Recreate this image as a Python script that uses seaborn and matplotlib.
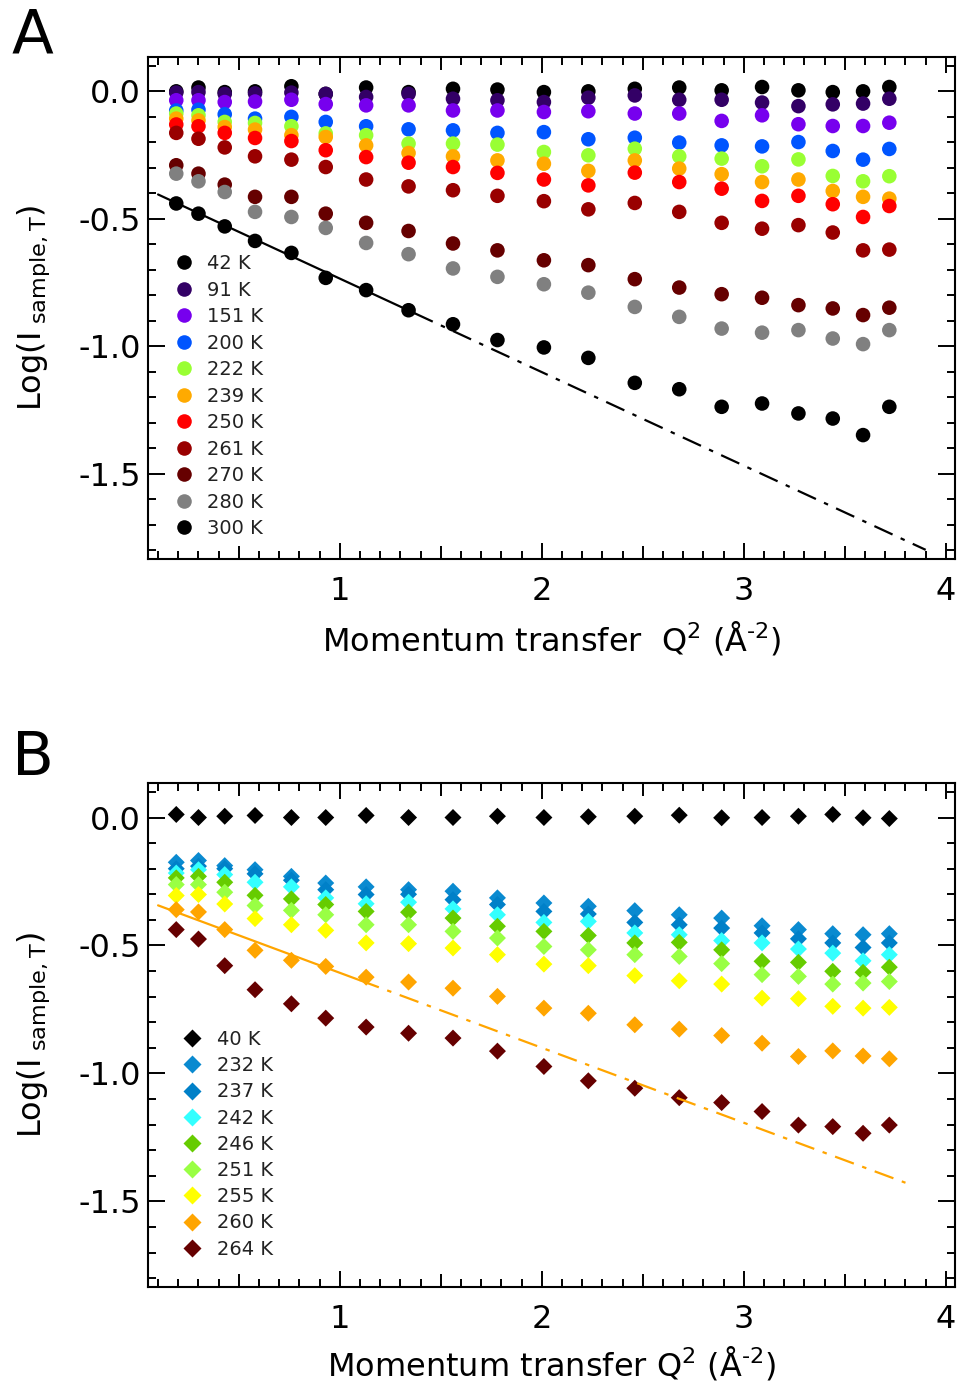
import numpy as np
import pandas as pd
import seaborn as sns
import matplotlib
matplotlib.use("Agg")
from matplotlib import pyplot as plt
from matplotlib.ticker import MultipleLocator, FuncFormatter

# Q^2 positions (same for both panels)
q2 = [0.19, 0.30, 0.43, 0.58, 0.76, 0.93, 1.13, 1.34, 1.56, 1.78,
      2.01, 2.23, 2.46, 2.68, 2.89, 3.09, 3.27, 3.44, 3.59, 3.72]

# panel A: circles
temps_a = ["42 K", "91 K", "151 K", "200 K", "222 K", "239 K",
           "250 K", "261 K", "270 K", "280 K", "300 K"]
colors_a = ["#000000", "#330066", "#7700ee", "#0055ff", "#99ff33", "#ffaa00",
            "#ff0000", "#990000", "#660000", "#808080", "#000000"]
a_42 = [0.0, 0.015, -0.003, 0.0, 0.02, -0.01, 0.015, -0.003, 0.01, 0.007,
        -0.003, 0.0, 0.01, 0.015, 0.004, 0.017, 0.004, -0.003, 0.0, 0.017]
a_91 = [-0.005, -0.003, -0.01, -0.008, -0.005, -0.01, -0.022, -0.01, -0.029, -0.035,
        -0.042, -0.025, -0.016, -0.033, -0.033, -0.044, -0.058, -0.051, -0.048, -0.029]
a_151 = [-0.035, -0.035, -0.042, -0.04, -0.033, -0.05, -0.055, -0.055, -0.075, -0.075,
         -0.081, -0.078, -0.087, -0.087, -0.116, -0.094, -0.129, -0.136, -0.136, -0.123]
a_200 = [-0.075, -0.072, -0.09, -0.107, -0.1, -0.12, -0.137, -0.149, -0.153, -0.163,
         -0.16, -0.188, -0.182, -0.201, -0.212, -0.216, -0.199, -0.234, -0.268, -0.226]
a_222 = [-0.087, -0.094, -0.12, -0.124, -0.137, -0.165, -0.172, -0.205, -0.205, -0.209,
         -0.238, -0.251, -0.225, -0.255, -0.264, -0.294, -0.267, -0.332, -0.353, -0.333]
a_239 = [-0.107, -0.114, -0.14, -0.15, -0.172, -0.179, -0.212, -0.242, -0.255, -0.271,
         -0.284, -0.312, -0.271, -0.303, -0.325, -0.356, -0.346, -0.391, -0.414, -0.421]
a_250 = [-0.13, -0.137, -0.163, -0.183, -0.195, -0.231, -0.258, -0.28, -0.297, -0.32,
         -0.346, -0.369, -0.319, -0.356, -0.382, -0.43, -0.41, -0.443, -0.493, -0.45]
a_261 = [-0.163, -0.186, -0.22, -0.255, -0.268, -0.297, -0.346, -0.373, -0.388, -0.41,
         -0.431, -0.463, -0.438, -0.473, -0.516, -0.539, -0.525, -0.554, -0.624, -0.621]
a_270 = [-0.29, -0.323, -0.366, -0.414, -0.414, -0.48, -0.516, -0.548, -0.597, -0.624,
         -0.663, -0.682, -0.737, -0.77, -0.796, -0.81, -0.839, -0.852, -0.878, -0.849]
a_280 = [-0.323, -0.353, -0.395, -0.473, -0.493, -0.536, -0.595, -0.639, -0.695, -0.728,
         -0.757, -0.79, -0.846, -0.885, -0.931, -0.947, -0.937, -0.97, -0.992, -0.937]
a_300 = [-0.44, -0.48, -0.53, -0.587, -0.634, -0.732, -0.78, -0.859, -0.914, -0.976,
         -1.005, -1.046, -1.144, -1.169, -1.238, -1.225, -1.264, -1.284, -1.349, -1.238]
series_a = [a_42, a_91, a_151, a_200, a_222, a_239, a_250, a_261, a_270, a_280, a_300]

# panel B: diamonds
temps_b = ["40 K", "232 K", "237 K", "242 K", "246 K", "251 K", "255 K", "260 K", "264 K"]
colors_b = ["#000000", "#0a8ad0", "#0080c8", "#33ffff", "#66cc00", "#99ff44",
            "#ffff00", "#ffa500", "#660000"]
b_40 = [0.012, 0.0, 0.005, 0.008, 0.0, 0.0, 0.008, 0.0, 0.0, 0.005,
        0.0, 0.003, 0.005, 0.009, -0.001, 0.0, 0.005, 0.012, -0.001, -0.004]
b_232 = [-0.175, -0.168, -0.188, -0.204, -0.23, -0.256, -0.271, -0.282, -0.288, -0.314,
         -0.334, -0.347, -0.364, -0.38, -0.393, -0.423, -0.438, -0.454, -0.458, -0.454]
b_237 = [-0.2, -0.19, -0.2, -0.22, -0.245, -0.282, -0.301, -0.3, -0.321, -0.34,
         -0.367, -0.377, -0.41, -0.419, -0.432, -0.451, -0.474, -0.49, -0.508, -0.49]
b_242 = [-0.217, -0.204, -0.223, -0.253, -0.271, -0.314, -0.337, -0.331, -0.357, -0.38,
         -0.41, -0.406, -0.451, -0.458, -0.481, -0.49, -0.514, -0.53, -0.56, -0.536]
b_246 = [-0.236, -0.23, -0.253, -0.304, -0.318, -0.34, -0.367, -0.37, -0.393, -0.425,
         -0.445, -0.461, -0.49, -0.488, -0.517, -0.562, -0.566, -0.601, -0.605, -0.585]
b_251 = [-0.262, -0.262, -0.292, -0.344, -0.363, -0.38, -0.419, -0.419, -0.445, -0.471,
         -0.504, -0.517, -0.536, -0.543, -0.571, -0.614, -0.621, -0.651, -0.647, -0.641]
b_255 = [-0.305, -0.301, -0.338, -0.395, -0.419, -0.441, -0.49, -0.493, -0.51, -0.536,
         -0.573, -0.579, -0.618, -0.638, -0.651, -0.706, -0.708, -0.738, -0.745, -0.742]
b_260 = [-0.36, -0.369, -0.438, -0.519, -0.558, -0.582, -0.624, -0.643, -0.667, -0.699,
         -0.745, -0.765, -0.81, -0.827, -0.852, -0.882, -0.934, -0.912, -0.932, -0.943]
b_264 = [-0.438, -0.475, -0.579, -0.673, -0.728, -0.784, -0.819, -0.843, -0.862, -0.913,
         -0.973, -1.029, -1.058, -1.095, -1.114, -1.149, -1.202, -1.208, -1.234, -1.202]
series_b = [b_40, b_232, b_237, b_242, b_246, b_251, b_255, b_260, b_264]

# linear fits: (intercept, slope, x start, x end of solid part, x end of dash-dot)
fit_a = (-0.368, -0.367, 0.10, 1.37, 3.90)
fit_b = (-0.314, -0.293, 0.10, 1.10, 3.80)

sns.set_style("ticks")
plt.rcParams["font.family"] = ["DejaVu Sans"]
plt.rcParams["mathtext.fontset"] = "dejavusans"
plt.rcParams["axes.linewidth"] = 1.5
plt.rcParams["xtick.direction"] = "in"
plt.rcParams["ytick.direction"] = "in"
plt.rcParams["text.color"] = "black"
plt.rcParams["axes.labelcolor"] = "black"
plt.rcParams["xtick.color"] = "black"
plt.rcParams["ytick.color"] = "black"

fig = plt.figure(figsize=(9.59, 13.89), dpi=100)
ax_a = fig.add_axes([0.1543, 0.5976, 0.8415, 0.3614])
ax_b = fig.add_axes([0.1543, 0.0734, 0.8415, 0.3629])


def long_df(temps, series):
    rows = []
    for t, vals in zip(temps, series):
        for x, y in zip(q2, vals):
            rows.append((t, x, y))
    return pd.DataFrame(rows, columns=["T", "Q2", "logI"])


def style_axes(ax, xlabel, xpad):
    ax.set_xlim(0.05, 4.045)
    ax.set_ylim(-1.835, 0.135)
    ax.xaxis.set_major_locator(MultipleLocator(0.5))
    ax.xaxis.set_minor_locator(MultipleLocator(0.1))
    ax.xaxis.set_major_formatter(FuncFormatter(
        lambda v, p: "%d" % round(v) if abs(v - round(v)) < 1e-6 else ""))
    ax.yaxis.set_major_locator(MultipleLocator(0.5))
    ax.yaxis.set_minor_locator(MultipleLocator(0.1))
    ax.yaxis.set_major_formatter(FuncFormatter(lambda v, p: "%.1f" % v))
    ax.tick_params(which="both", top=True, right=True, width=1.4, labelsize=23)
    ax.tick_params(axis="x", which="major", length=11.5, pad=12)
    ax.tick_params(axis="y", which="major", length=12, pad=5)
    ax.tick_params(which="minor", length=5.8)
    # half-integer x ticks are medium length
    for tk in ax.xaxis.get_major_ticks():
        v = tk.get_loc()
        if v is not None and abs(v - round(v)) > 1e-6:
            tk.tick1line.set_markersize(9.4)
            tk.tick2line.set_markersize(9.4)
    for sp in ax.spines.values():
        sp.set_color("black")
        sp.set_visible(True)
    ax.set_xlabel(xlabel, fontsize=23, labelpad=xpad)
    ax.set_ylabel(r"Log(I$_{\mathrm{\ sample,T}}$)", fontsize=23, labelpad=19)


# ---- panel A
df_a = long_df(temps_a, series_a)
sns.scatterplot(data=df_a, x="Q2", y="logI", hue="T", hue_order=temps_a,
                palette=dict(zip(temps_a, colors_a)), marker="o", s=110,
                edgecolor="none", ax=ax_a)
b0, b1, x0, x1, x2 = fit_a
xs = np.array([x0, x1])
ax_a.plot(xs, b0 + b1 * xs, color="black", lw=1.6)
xs = np.array([x1, x2])
ax_a.plot(xs, b0 + b1 * xs, color="black", lw=1.6, dashes=(9, 4, 2, 4))
style_axes(ax_a, r"Momentum transfer  Q$^{2}$ (Å$^{\text{-2}}$)", 9)
sns.move_legend(ax_a, "upper left", bbox_to_anchor=(0.02, 0.607), frameon=False,
                title=None, fontsize=14, handletextpad=0.2, labelspacing=0.385,
                borderpad=0, borderaxespad=0, markerscale=1.0, labelcolor="#222222")

# ---- panel B
df_b = long_df(temps_b, series_b)
sns.scatterplot(data=df_b, x="Q2", y="logI", hue="T", hue_order=temps_b,
                palette=dict(zip(temps_b, colors_b)), marker="D", s=75,
                edgecolor="none", ax=ax_b)
b0, b1, x0, x1, x2 = fit_b
xs = np.array([x0, x1])
ax_b.plot(xs, b0 + b1 * xs, color="#ffa500", lw=1.6)
xs = np.array([x1, x2])
ax_b.plot(xs, b0 + b1 * xs, color="#ffa500", lw=1.6, dashes=(9, 4, 2, 4))
style_axes(ax_b, r"Momentum transfer Q$^{2}$ (Å$^{\text{-2}}$)", 7)
sns.move_legend(ax_b, "upper left", bbox_to_anchor=(0.03, 0.51), frameon=False,
                title=None, fontsize=14, handletextpad=0.3, labelspacing=0.37,
                borderpad=0, borderaxespad=0, markerscale=1.0, labelcolor="#222222")

fig.text(0.012, 0.995, "A", fontsize=44, va="top", ha="left")
fig.text(0.012, 0.475, "B", fontsize=44, va="top", ha="left")

fig.savefig("out.png", dpi=100, facecolor="white")
